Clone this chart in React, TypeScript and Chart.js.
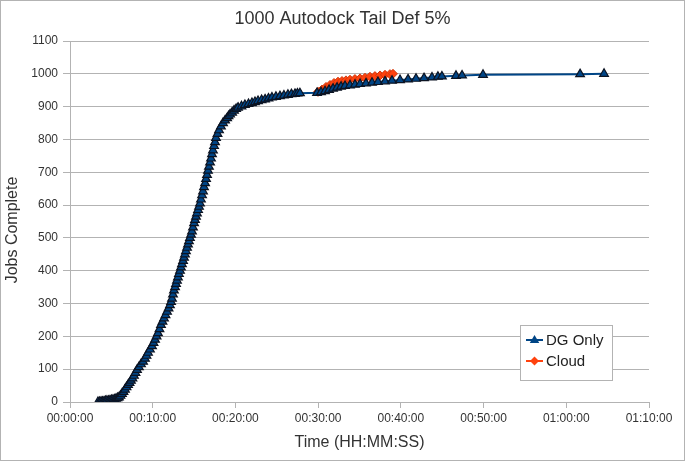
import React, { useEffect, useRef } from "react";
import { Chart, registerables } from "chart.js";

Chart.register(...registerables);

// ---- Data (time in seconds, jobs complete) ----
const dgTimes = [
  203, 214, 225, 236, 247, 258, 268, 279, 290, 301, 312, 323, 334, 345, 355, 366, 377, 388,
  399, 410, 421, 432, 442, 453, 464, 475, 486, 500, 515, 530, 544, 555, 566, 580, 595, 606,
  617, 628, 638, 649, 660, 671, 682, 693, 704, 715, 725, 733, 740, 747, 754, 762, 769, 776,
  783, 790, 798, 805, 812, 820, 827, 834, 841, 849, 856, 863, 870, 878, 885, 892, 900, 907,
  914, 921, 929, 936, 943, 950, 958, 965, 972, 980, 987, 994, 1001, 1008, 1016, 1023, 1030,
  1037, 1045, 1052, 1059, 1070, 1081, 1095, 1110, 1125, 1140, 1150, 1161, 1176, 1190, 1205,
  1219, 1244, 1269, 1295, 1320, 1342, 1364, 1390, 1415, 1440, 1465, 1494, 1523, 1552, 1581,
  1606, 1632, 1650, 1668,
  1792, 1821, 1850, 1879, 1908, 1937, 1966, 1995, 2031, 2067, 2104, 2147, 2191, 2234,
  2285, 2336, 2394, 2452, 2510, 2568, 2626, 2669, 2698, 2800, 2844, 2996, 3700, 3874,
];
const dgJobs = [
  0, 0, 1, 1, 2, 3, 4, 4, 5, 6, 7, 8, 10, 12, 14, 19, 25, 31,
  38, 45, 52, 58, 65, 72, 80, 89, 98, 106, 115, 123, 132, 141, 150, 160, 170, 180,
  190, 200, 210, 222, 235, 245, 255, 265, 275, 285, 295, 305, 315, 328, 340, 350, 360, 370,
  380, 390, 400, 410, 420, 430, 440, 450, 460, 470, 480, 490, 500, 510, 520, 532, 545, 555,
  565, 575, 585, 595, 605, 617, 630, 642, 655, 667, 680, 692, 705, 717, 730, 742, 755,
  767, 780, 792, 805, 817, 828, 840, 850, 858, 865, 871, 876, 882, 888, 893,
  897, 901, 905, 908, 911, 914, 917, 920, 922, 925, 928, 930, 932, 934, 936,
  938, 939, 940, 941,
  942, 944, 947, 951, 955, 958, 961, 963, 965, 967, 969, 971, 973, 975,
  977, 979, 981, 983, 985, 987, 989, 991, 992, 994, 995, 997, 999, 1000,
];
const cloudTimes = [
  1799, 1828, 1857, 1886, 1915, 1944, 1973, 2002, 2031, 2067, 2104, 2140, 2176, 2212,
  2249, 2285, 2321, 2343,
];
const cloudJobs = [
  945, 952, 960, 966, 972, 976, 978, 980, 982, 984, 986, 988, 991, 993,
  995, 997, 999, 1000,
];
const xTicks = [0, 600, 1200, 1800, 2400, 3000, 3600, 4200];
const yTicks = [0, 100, 200, 300, 400, 500, 600, 700, 800, 900, 1000, 1100];

const TITLE = "1000 Autodock Tail Def 5%";
const X_TITLE = "Time (HH:MM:SS)";
const Y_TITLE = "Jobs Complete";
const SERIES = ["DG Only", "Cloud"];
const COLORS = ["#004586", "#ff420e"];

const FONT = "'Liberation Sans', Arial, sans-serif";

function fmt(sec: number): string {
  const h = Math.floor(sec / 3600);
  const m = Math.floor((sec % 3600) / 60);
  const s = Math.floor(sec % 60);
  const p = (n: number) => String(n).padStart(2, "0");
  return `${p(h)}:${p(m)}:${p(s)}`;
}

function drawTriangle(ctx: CanvasRenderingContext2D, x: number, y: number, r: number) {
  ctx.beginPath();
  ctx.moveTo(x, y - r);
  ctx.lineTo(x + r * 0.95, y + r * 0.6);
  ctx.lineTo(x - r * 0.95, y + r * 0.6);
  ctx.closePath();
}
function drawDiamond(ctx: CanvasRenderingContext2D, x: number, y: number, r: number) {
  ctx.beginPath();
  ctx.moveTo(x, y - r);
  ctx.lineTo(x + r, y);
  ctx.lineTo(x, y + r);
  ctx.lineTo(x - r, y);
  ctx.closePath();
}

export default function App() {
  const ref = useRef<HTMLCanvasElement>(null);

  useEffect(() => {
    document.body.style.margin = "0";
    const canvas = ref.current;
    if (!canvas) return;

    const deco = {
      id: "deco",
      afterDraw(chart: any) {
        const ctx: CanvasRenderingContext2D = chart.ctx;
        const a = chart.chartArea;
        ctx.save();
        // outer border
        ctx.strokeStyle = "#b3b3b3";
        ctx.lineWidth = 1;
        ctx.strokeRect(0.5, 0.5, 684, 460);
        // title
        ctx.fillStyle = "#333333";
        ctx.textAlign = "center";
        ctx.textBaseline = "middle";
        ctx.font = `18px ${FONT}`;
        ctx.fillText(TITLE, 342.5, 19);
        // axis titles
        ctx.font = `16px ${FONT}`;
        ctx.fillText(X_TITLE, (a.left + a.right) / 2, 443);
        ctx.save();
        ctx.translate(13, 230);
        ctx.rotate(-Math.PI / 2);
        ctx.fillText(Y_TITLE, 0, 0);
        ctx.restore();

        // legend
        const bx = 520.5, by = 325.5, bw = 92, bh = 55;
        ctx.fillStyle = "#ffffff";
        ctx.fillRect(bx, by, bw, bh);
        ctx.strokeStyle = "#b3b3b3";
        ctx.strokeRect(bx, by, bw, bh);
        const rows = [340, 361];
        SERIES.forEach((name, i) => {
          const y = rows[i];
          ctx.strokeStyle = COLORS[i];
          ctx.lineWidth = 2;
          ctx.beginPath();
          ctx.moveTo(526, y);
          ctx.lineTo(543, y);
          ctx.stroke();
          ctx.fillStyle = COLORS[i];
          if (i === 0) drawTriangle(ctx, 534.5, y, 5);
          else drawDiamond(ctx, 534.5, y, 4.5);
          ctx.fill();
          ctx.fillStyle = "#222222";
          ctx.font = `15px ${FONT}`;
          ctx.textAlign = "left";
          ctx.textBaseline = "middle";
          ctx.fillText(name, 546, y + 1);
        });
        ctx.restore();
      },
    };

    const chart = new Chart(canvas, {
      type: "scatter",
      data: {
        datasets: [
          {
            label: SERIES[0],
            data: dgTimes.map((t, i) => ({ x: t, y: dgJobs[i] })),
            showLine: true,
            borderColor: COLORS[0],
            borderWidth: 2,
            pointStyle: "triangle",
            pointRadius: 5,
            pointBackgroundColor: COLORS[0],
            pointBorderColor: "#0b1322",
            pointBorderWidth: 1.2,
          },
          {
            label: SERIES[1],
            data: cloudTimes.map((t, i) => ({ x: t, y: cloudJobs[i] })),
            showLine: true,
            borderColor: COLORS[1],
            borderWidth: 2,
            pointStyle: "rectRot",
            pointRadius: 4.5,
            pointBackgroundColor: COLORS[1],
            pointBorderColor: "#d0380c",
            pointBorderWidth: 1,
          },
        ],
      },
      options: {
        animation: false,
        responsive: false,
        devicePixelRatio: 1,
        layout: { padding: { top: 41, right: 36, bottom: 0, left: 0 } },
        plugins: {
          legend: { display: false },
          tooltip: { enabled: false },
          title: { display: false },
        },
        scales: {
          x: {
            type: "linear",
            min: xTicks[0],
            max: xTicks[xTicks.length - 1],
            afterBuildTicks: (s: any) => {
              s.ticks = xTicks.map((v) => ({ value: v }));
            },
            afterFit: (s: any) => {
              s.height = 59;
            },
            grid: {
              drawOnChartArea: false,
              color: "#b3b3b3",
              tickLength: 6,
            },
            border: { color: "#b3b3b3" },
            ticks: {
              color: "#333333",
              font: { family: FONT, size: 12 },
              padding: 3,
              maxRotation: 0,
              autoSkip: false,
              callback: (v: any) => fmt(Number(v)),
            },
          },
          y: {
            type: "linear",
            min: yTicks[0],
            max: yTicks[yTicks.length - 1],
            afterBuildTicks: (s: any) => {
              s.ticks = yTicks.map((v) => ({ value: v }));
            },
            afterFit: (s: any) => {
              s.width = 70;
            },
            grid: {
              color: "#b3b3b3",
              tickLength: 7,
            },
            border: { color: "#b3b3b3" },
            ticks: {
              color: "#333333",
              font: { family: FONT, size: 12 },
              padding: 5,
              autoSkip: false,
              callback: (v: any) => String(v),
            },
          },
        },
      },
      plugins: [deco],
    } as any);

    return () => chart.destroy();
  }, []);

  return (
    <div style={{ width: 685, height: 461 }}>
      <canvas ref={ref} width={685} height={461} style={{ display: "block" }} />
    </div>
  );
}
